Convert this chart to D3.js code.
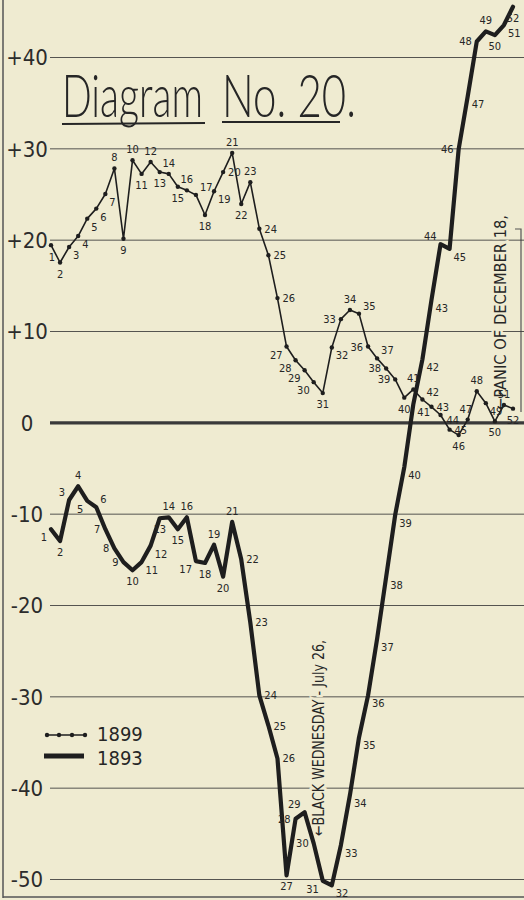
<!DOCTYPE html>
<html>
<head>
<meta charset="utf-8">
<script src="https://cdn.jsdelivr.net/npm/d3@7"></script>
<style>
  html, body { margin: 0; padding: 0; background: #efebd1; }
  svg { display: block; }
</style>
</head>
<body>
<script>
// ---- Data ----
const weeks = d3.range(1, 53);
const tickValues = [40, 30, 20, 10, 0, -10, -20, -30, -40, -50];
const tickLabels = ["+40", "+30", "+20", "+10", "0", "-10", "-20", "-30", "-40", "-50"];
const series1899 = [19.4,17.5,19.2,20.4,22.3,23.4,25.0,27.8,20.1,28.7,
                    27.2,28.5,27.4,27.2,25.8,25.4,24.9,22.7,25.3,27.4,
                    29.5,23.9,26.3,21.2,18.3,13.6,8.3,6.8,5.7,4.4,
                    3.2,8.2,11.3,12.3,11.9,8.3,7.0,5.9,4.7,2.7,
                    3.6,2.5,1.7,0.8,-0.8,-1.4,0.3,3.4,2.1,0.1,1.9,1.5];
const series1893 = [-11.7,-13.0,-8.5,-7.0,-8.6,-9.3,-11.7,-13.8,-15.3,-16.2,
                    -15.3,-13.5,-10.5,-10.4,-11.7,-10.4,-15.2,-15.4,-13.4,-16.9,
                    -10.9,-15.0,-21.9,-29.9,-33.2,-36.8,-49.6,-43.4,-42.7,-46.1,
                    -50.2,-50.7,-46.3,-40.8,-34.5,-29.9,-23.7,-16.9,-10.1,-4.9,
                    2.0,6.9,13.4,19.5,19.0,29.9,35.7,41.7,42.8,42.4,43.5,45.5];
const legendNames = ["1899", "1893"];
const titleWords = ["Diagram", "No. 20."];
const noteBlack = "\u2190BLACK WEDNESDAY - July 26,";
const notePanic = "\u2190PANIC OF DECEMBER 18,";

// ---- Layout ----
const W = 524, H = 900;
const ink = "#262626";
const bg = "#efebd1";
const narrow = "'Liberation Sans Narrow', 'DejaVu Sans Condensed', sans-serif";
const svg = d3.select("body").append("svg").attr("width", W).attr("height", H);
svg.append("rect").attr("width", W).attr("height", H).attr("fill", bg);

const x = d3.scaleLinear().domain([1, 52]).range([51, 513]);
const y = d3.scaleLinear().domain([-50, 40]).range([879, 57]);

// frame
svg.append("line").attr("x1", 3).attr("x2", 3).attr("y1", 0).attr("y2", 898)
  .attr("stroke", "#555").attr("stroke-width", 1.5);
svg.append("line").attr("x1", 3).attr("x2", W).attr("y1", 897).attr("y2", 897)
  .attr("stroke", "#555").attr("stroke-width", 1.5);
svg.append("path").attr("d", "M515,229 L521,229 L521,412")
  .attr("fill", "none").attr("stroke", "#555").attr("stroke-width", 1.2);

// axis + gridlines
const axis = d3.axisLeft(y)
  .tickValues(tickValues)
  .tickSize(-(W - 50))
  .tickPadding(0)
  .tickFormat((d, i) => tickLabels[i]);
const gAxis = svg.append("g").attr("transform", "translate(50,0)").call(axis);
gAxis.select(".domain").remove();
gAxis.selectAll(".tick line")
  .attr("stroke", "#3a3a3a")
  .attr("stroke-width", d => d === 0 ? 3.2 : 1)
  .attr("opacity", d => d === 0 ? 1 : 0.85);
gAxis.selectAll(".tick text")
  .attr("x", -23)
  .attr("text-anchor", "middle")
  .attr("dy", "0.35em")
  .attr("fill", "#2c2c2c")
  .style("font-family", narrow)
  .style("font-size", "22px");

// title (condensed by a horizontal scale so boxes stay true)
function squeezed(text, x0, base, width) {
  const t = svg.append("text").attr("fill", ink)
    .style("font-family", "Lato, 'Liberation Sans Narrow', sans-serif")
    .style("font-weight", 300)
    .style("font-size", "60px")
    .text(text);
  const natural = t.node().getComputedTextLength() || width;
  t.attr("transform", `translate(${x0},${base}) scale(${width / natural},1)`);
}
squeezed(titleWords[0], 62, 117, 141);
squeezed(titleWords[1], 222, 117, 134);
svg.append("line").attr("x1", 62).attr("x2", 205).attr("y1", 124).attr("y2", 123)
  .attr("stroke", ink).attr("stroke-width", 2);
svg.append("line").attr("x1", 222).attr("x2", 340).attr("y1", 122).attr("y2", 122)
  .attr("stroke", ink).attr("stroke-width", 2);

// annotations (rotated)
function vnote(text, cx, yBottom, len, size) {
  svg.append("text")
    .attr("transform", `translate(${cx},${yBottom}) rotate(-90)`)
    .attr("dy", "0.35em")
    .attr("textLength", len).attr("lengthAdjust", "spacingAndGlyphs")
    .attr("fill", ink)
    .attr("stroke", bg).attr("stroke-width", 5).attr("paint-order", "stroke")
    .style("font-family", narrow)
    .style("font-size", size + "px")
    .text(text);
}
vnote(noteBlack, 318, 836, 196, 16);
vnote(notePanic, 500, 410, 195, 16);

// lines
const line = d3.line().x((d, i) => x(weeks[i])).y(d => y(d));
svg.append("path").datum(series1893).attr("d", line)
  .attr("fill", "none").attr("stroke", "#1e1e1e").attr("stroke-width", 4.2)
  .attr("stroke-linejoin", "round").attr("stroke-linecap", "round");
svg.append("path").datum(series1899).attr("d", line)
  .attr("fill", "none").attr("stroke", "#1e1e1e").attr("stroke-width", 1.6)
  .attr("stroke-linejoin", "round");
svg.append("g").selectAll("circle").data(series1899).join("circle")
  .attr("cx", (d, i) => x(weeks[i])).attr("cy", d => y(d)).attr("r", 2.2)
  .attr("fill", "#1e1e1e");

// point label placement: default rule from curve shape, with a few
// hand-placed sides
const offsets = {
  a:  [0, -7, "middle"],  b:  [0, 15, "middle"],  bl: [1, 16, "middle"],
  al: [-2, -7, "middle"],
  r:  [5, 4, "start"],    rb: [4, 12, "start"],   ra: [4, -4, "start"],
  rl: [6, 9, "start"],
  l:  [-5, 4, "end"],     lb: [-4, 12, "end"],    la: [-4, -4, "end"]
};
const side1899 = {1: "bl", 13: "b", 14: "a", 15: "b", 16: "a", 17: "ra", 20: "r",
  27: "lb", 28: "lb", 29: "lb", 30: "lb", 33: "l", 35: "ra", 36: "l", 37: "ra",
  38: "l", 39: "l", 42: "ra", 43: "r", 44: "rl", 47: "al", 49: "rb", 51: "a", 52: "b"};
const side1893 = {1: "lb", 3: "la", 5: "lb", 6: "ra", 7: "l", 8: "l", 9: "l",
  13: "b", 17: "lb", 28: "l", 29: "la", 30: "l", 31: "lb", 32: "rb",
  44: "la", 45: "rb", 46: "l", 48: "l", 49: "a", 50: "b", 51: "rb", 52: "b"};
function autoSide(arr, i) {
  const v = arr[i], p = arr[i - 1], n = arr[i + 1];
  if (p === undefined) return "l";
  if (n === undefined) return "rb";
  if (v >= p && v >= n) return "a";
  if (v <= p && v <= n) return "b";
  if (n > v) return "rb";
  return "r";
}
function labels(arr, sides, size) {
  const off = (i) => offsets[sides[weeks[i]] || autoSide(arr, i)];
  svg.append("g")
    .style("font-family", narrow)
    .style("font-size", size + "px")
    .attr("fill", ink)
    .selectAll("text").data(arr).join("text")
    .attr("x", (d, i) => x(weeks[i]) + off(i)[0])
    .attr("y", (d, i) => y(d) + off(i)[1])
    .attr("text-anchor", (d, i) => off(i)[2])
    .text((d, i) => weeks[i]);
}
labels(series1899, side1899, 11);
labels(series1893, side1893, 11);

// legend
const lg = svg.append("g");
lg.append("line").attr("x1", 46).attr("x2", 86).attr("y1", 735).attr("y2", 735)
  .attr("stroke", "#1e1e1e").attr("stroke-width", 1.5);
lg.selectAll("circle").data([47, 59, 72, 85]).join("circle")
  .attr("cx", d => d).attr("cy", 735).attr("r", 2.2).attr("fill", "#1e1e1e");
lg.append("line").attr("x1", 44).attr("x2", 84).attr("y1", 756).attr("y2", 756)
  .attr("stroke", "#1e1e1e").attr("stroke-width", 5);
lg.selectAll("text").data(legendNames).join("text")
  .attr("x", 97).attr("y", (d, i) => 734 + i * 24).attr("dy", "0.35em")
  .attr("fill", ink)
  .style("font-family", narrow)
  .style("font-size", "20px")
  .text(d => d);
</script>
</body>
</html>
